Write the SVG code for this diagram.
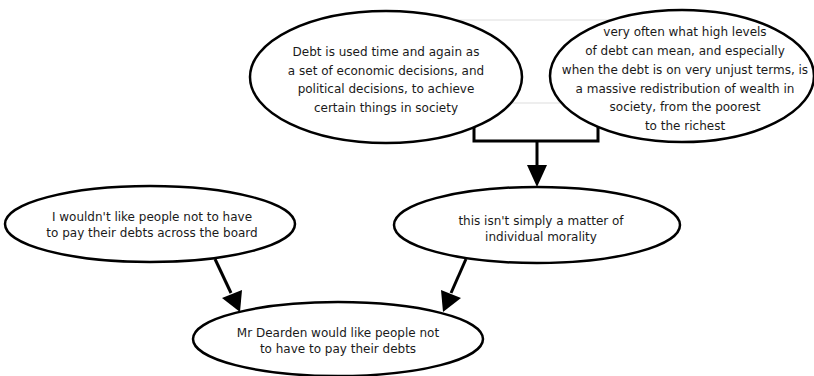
<svg xmlns="http://www.w3.org/2000/svg" width="814" height="376" viewBox="0 0 814 376">
<style>
.n ellipse{fill:#fff;stroke:#000;stroke-width:2.5}
.n text{font-family:"DejaVu Sans",sans-serif;font-size:12px;fill:#1a1a1a;text-anchor:middle}
.c{stroke:#000;stroke-width:3;fill:none}
.h{fill:#000;stroke:none}
</style>
<rect x="400" y="20" width="270" height="83" fill="none" stroke="#dddddd" stroke-width="1"/>
<g id="connectors">
<polyline class="c" points="474,125 474,141 598,141 598,125"/>
<line class="c" x1="537" y1="141" x2="537" y2="167"/>
<polygon class="h" points="527,165 547,165 537,187"/>
<line class="c" x1="215" y1="259" x2="231" y2="293"/>
<polygon class="h" points="222,298 242,290 240,312"/>
<line class="c" x1="466" y1="259" x2="451" y2="293"/>
<polygon class="h" points="441,290 461,298 443,312"/>
</g>
<g id="n1" class="n">
<ellipse cx="386" cy="77" rx="136" ry="66"/>
<text x="386" y="56">Debt is used time and again as</text>
<text x="386" y="74.5">a set of economic decisions, and</text>
<text x="386" y="93">political decisions, to achieve</text>
<text x="386" y="111.5">certain things in society</text>
</g>
<g id="n2" class="n">
<ellipse cx="682" cy="76" rx="132" ry="66"/>
<text x="685" y="36">very often what high levels</text>
<text x="685" y="55">of debt can mean, and especially</text>
<text x="685" y="74">when the debt is on very unjust terms, is</text>
<text x="685" y="93">a massive redistribution of wealth in</text>
<text x="685" y="111">society, from the poorest</text>
<text x="685" y="130">to the richest</text>
</g>
<g id="n3" class="n">
<ellipse cx="537" cy="225" rx="143" ry="38"/>
<text x="541" y="224.5">this isn't simply a matter of</text>
<text x="541" y="241">individual morality</text>
</g>
<g id="n4" class="n">
<ellipse cx="150" cy="224" rx="145" ry="38"/>
<text x="152" y="220.5">I wouldn't like people not to have</text>
<text x="152" y="237">to pay their debts across the board</text>
</g>
<g id="n5" class="n">
<ellipse cx="338" cy="339" rx="145" ry="37"/>
<text x="338" y="337">Mr Dearden would like people not</text>
<text x="338" y="353">to have to pay their debts</text>
</g>
</svg>
